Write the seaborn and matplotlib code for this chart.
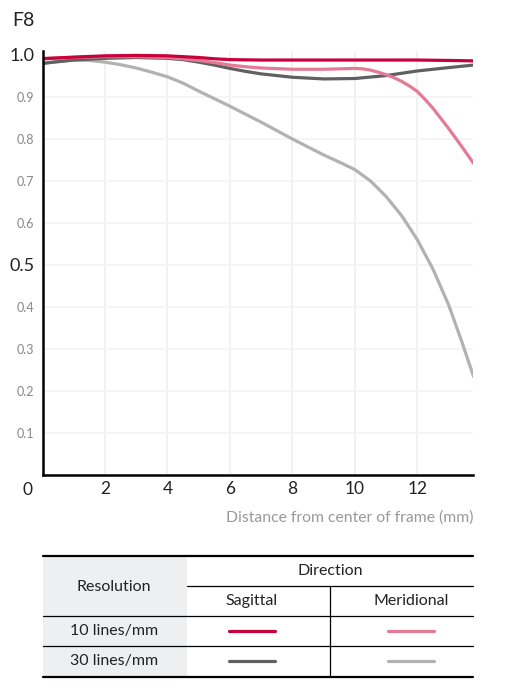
import numpy as np
import pandas as pd
import matplotlib.pyplot as plt
import matplotlib.transforms as mtransforms
import seaborn as sns
from matplotlib.patches import Rectangle

sns.set_theme(style="white")
plt.rcParams['font.family'] = ['Lato', 'DejaVu Sans']

# MTF values (distance in mm -> contrast)
x_sag10 = [0, 1, 2, 3, 4, 4.5, 5, 5.5, 6, 7, 8, 9, 10, 11, 12, 13, 13.8]
y_sag10 = [0.991, 0.995, 0.998, 0.999, 0.998, 0.996, 0.994, 0.991, 0.989, 0.988,
           0.988, 0.988, 0.988, 0.988, 0.988, 0.987, 0.986]

x_mer10 = [0, 1, 2, 3, 4, 4.5, 5, 5.5, 6, 6.5, 7, 8, 9, 9.5, 10, 10.25, 10.5,
           10.75, 11, 11.25, 11.5, 11.75, 12, 12.25, 12.5, 12.75, 13, 13.4, 13.8]
y_mer10 = [0.992, 0.994, 0.996, 0.996, 0.994, 0.991, 0.987, 0.982, 0.976, 0.972,
           0.969, 0.966, 0.966, 0.967, 0.968, 0.967, 0.964, 0.959, 0.953, 0.946,
           0.937, 0.926, 0.913, 0.894, 0.873, 0.849, 0.825, 0.784, 0.742]

x_sag30 = [0, 0.5, 1, 2, 3, 4, 4.5, 5, 5.5, 6, 6.5, 7, 8, 9, 10, 11, 12, 13, 13.8]
y_sag30 = [0.98, 0.984, 0.988, 0.992, 0.994, 0.992, 0.989, 0.983, 0.976, 0.968,
           0.961, 0.955, 0.947, 0.943, 0.944, 0.951, 0.962, 0.97, 0.976]

x_mer30 = [0, 0.5, 1, 1.5, 2, 2.5, 3, 3.5, 4, 4.5, 5, 5.5, 6, 7, 8, 9, 9.5, 10,
           10.5, 11, 11.5, 12, 12.5, 13, 13.4, 13.8]
y_mer30 = [0.98, 0.985, 0.988, 0.987, 0.983, 0.977, 0.969, 0.959, 0.948, 0.933,
           0.914, 0.896, 0.878, 0.84, 0.8, 0.762, 0.745, 0.727, 0.700, 0.663,
           0.617, 0.560, 0.490, 0.405, 0.322, 0.234]

colors = {'sag10': '#c8003c', 'mer10': '#e47a95', 'sag30': '#606060', 'mer30': '#b2b2b2'}

df = pd.concat([
    pd.DataFrame({'x': x_sag10, 'y': y_sag10, 's': 'sag10'}),
    pd.DataFrame({'x': x_mer10, 'y': y_mer10, 's': 'mer10'}),
    pd.DataFrame({'x': x_sag30, 'y': y_sag30, 's': 'sag30'}),
    pd.DataFrame({'x': x_mer30, 'y': y_mer30, 's': 'mer30'}),
])

W, H = 519, 700
fig = plt.figure(figsize=(W / 100, H / 100), dpi=100)

# chart area (pixel positions converted to figure fractions)
ax = fig.add_axes([42.5 / W, 1 - 475 / H, 430.5 / W, 424 / H])
draw_order = ['mer30', 'sag30', 'mer10', 'sag10']
sns.lineplot(data=df, x='x', y='y', hue='s', hue_order=draw_order,
             palette=colors, estimator=None, sort=False, lw=2.3,
             legend=False, ax=ax)

ax.set_xlim(0, 13.78)
ax.set_ylim(0, 1.0095)
for v in range(2, 13, 2):
    ax.axvline(v, color='#efefef', lw=1.2, zorder=0)
for v in np.arange(0.1, 0.95, 0.1):
    ax.axhline(v, color='#f4f4f4', lw=1.2, zorder=0)

for side in ['top', 'right']:
    ax.spines[side].set_visible(False)
for side in ['left', 'bottom']:
    ax.spines[side].set_color('black')
    ax.spines[side].set_linewidth(1.8)

ax.set_xticks(range(2, 13, 2))
ax.set_xticklabels([str(v) for v in range(2, 13, 2)], fontsize=12.5, color='#222222')
yt = [0.1, 0.2, 0.3, 0.4, 0.5, 0.6, 0.7, 0.8, 0.9, 1.0]
ax.set_yticks(yt)
ax.set_yticklabels([f'{v:.1f}' for v in yt])
for lab, v in zip(ax.get_yticklabels(), yt):
    if v in (0.5, 1.0):
        lab.set_fontsize(13)
        lab.set_color('#222222')
    else:
        lab.set_fontsize(9)
        lab.set_color('#888888')
    if v == 1.0:
        # the top label sits a little lower in the original
        lab.set_transform(lab.get_transform() +
                          mtransforms.ScaledTranslation(0, -3 / 72, fig.dpi_scale_trans))
ax.tick_params(axis='x', length=0, pad=4)
ax.tick_params(axis='y', length=0, pad=6)
ax.text(-0.034, -0.016, '0', transform=ax.transAxes, ha='center', va='top',
        fontsize=12.5, color='#222222')
ax.set_xlabel('')
ax.set_ylabel('')
ax.text(1.0, -0.083, 'Distance from center of frame (mm)', transform=ax.transAxes,
        ha='right', va='top', fontsize=11.3, color='#999999')

fig.text(12 / W, 1 - 20 / H, 'F8', ha='left', va='center', fontsize=14, color='#222222')

# legend table underneath
tab = fig.add_axes([0, 0, 1, 1])
tab.set_xlim(0, W)
tab.set_ylim(H, 0)
tab.axis('off')
tab.add_patch(Rectangle((43, 556), 144, 121, color='#eeeff1', lw=0))
tab.plot([43, 473], [556, 556], color='black', lw=1.6)
tab.plot([43, 473], [677, 677], color='black', lw=1.6)
tab.plot([187, 473], [586, 586], color='black', lw=0.9)
tab.plot([43, 473], [616, 616], color='black', lw=0.9)
tab.plot([43, 473], [646, 646], color='black', lw=0.9)
tab.plot([330, 330], [586, 677], color='black', lw=0.9)

txt = dict(ha='center', va='center', fontsize=11.5, color='#222222')
tab.text(114, 587, 'Resolution', **txt)
tab.text(330, 571, 'Direction', **txt)
tab.text(252, 601, 'Sagittal', **txt)
tab.text(411, 601, 'Meridional', **txt)
tab.text(114, 631, '10 lines/mm', **txt)
tab.text(114, 661, '30 lines/mm', **txt)

tab.plot([229, 275], [631, 631], color=colors['sag10'], lw=2.3)
tab.plot([388, 434], [631, 631], color=colors['mer10'], lw=2.3)
tab.plot([229, 275], [661, 661], color=colors['sag30'], lw=2.3)
tab.plot([388, 434], [661, 661], color=colors['mer30'], lw=2.3)

fig.savefig('out.png', dpi=100)
